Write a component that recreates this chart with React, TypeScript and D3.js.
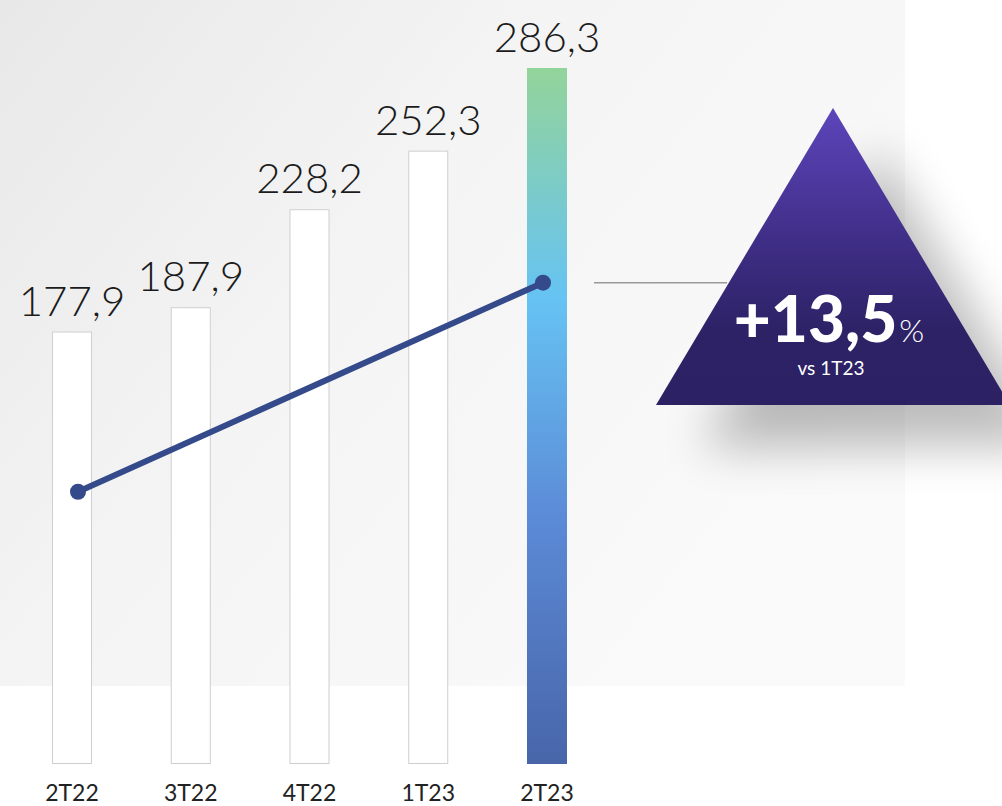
import * as d3 from "d3";

const categories = ["2T22", "3T22", "4T22", "1T23", "2T23"];
const barValues = [177.9, 187.9, 228.2, 252.3, 286.3];
const barLabels = ["177,9", "187,9", "228,2", "252,3", "286,3"];

// trend line: only first and last quarter
const lineCategories = ["2T22", "2T23"];
const lineValues = [112, 198];

const badgeValue = "+13,5";
const badgeUnit = "%";
const badgeSub = "vs 1T23";

const W = 1002;
const H = 806;

const App = () => {
  const x = d3.scaleBand().domain(categories).range([52, 567]).paddingInner(0.663).paddingOuter(0);
  const y = d3.scaleLinear().domain([0, 286.3]).range([764, 68]);

  // line sits a bit inside the bar centres
  const xl = d3.scalePoint().domain(categories).range([x("2T22")! + x.bandwidth() / 2 + 6, x("2T23")! + x.bandwidth() / 2 - 4]);

  const linePts = lineCategories.map((c, i) => ({ c, v: lineValues[i] }));
  const line = d3.line<{ c: string; v: number }>()
    .x(d => xl(d.c)!)
    .y(d => y(d.v));

  const last = categories[categories.length - 1];
  const lastPt = linePts[linePts.length - 1];

  // triangle badge
  const apex = { x: 833, y: 108 };
  const half = 177;
  const baseY = 405;
  const tri = `M${apex.x},${apex.y} L${apex.x + half},${baseY} L${apex.x - half},${baseY} Z`;

  return (
    <svg width={W} height={H} style={{ position: "absolute", left: 0, top: 0, display: "block" }}
      fontFamily="Lato, 'Noto Sans', sans-serif">
      <defs>
        <linearGradient id="bg" x1="0" y1="0" x2="1" y2="0.6">
          <stop offset="0" stopColor="#e8e8e8" />
          <stop offset="0.45" stopColor="#f4f4f4" />
          <stop offset="1" stopColor="#fafafa" />
        </linearGradient>
        <linearGradient id="hl" x1="0" y1="0" x2="0" y2="1">
          <stop offset="0" stopColor="#93d49a" />
          <stop offset="0.33" stopColor="#66c3f3" />
          <stop offset="0.65" stopColor="#5b8ad6" />
          <stop offset="1" stopColor="#4865a9" />
        </linearGradient>
        <linearGradient id="tri" x1="0" y1="0" x2="0" y2="1">
          <stop offset="0" stopColor="#5c45bb" />
          <stop offset="0.45" stopColor="#3f2e86" />
          <stop offset="0.75" stopColor="#2d2266" />
          <stop offset="1" stopColor="#2c2163" />
        </linearGradient>
        <filter id="blur" x="-50%" y="-50%" width="200%" height="200%">
          <feGaussianBlur stdDeviation="24" />
        </filter>
      </defs>

      <rect x={0} y={0} width={905} height={686} fill="url(#bg)" />

      {categories.map((c, i) => {
        const isLast = c === last;
        return (
          <g key={c}>
            <rect
              x={x(c)! + (isLast ? 0 : 0.5)}
              y={y(barValues[i]) + (isLast ? 0 : 0.5)}
              width={x.bandwidth() - (isLast ? 0 : 1)}
              height={y(0) - y(barValues[i]) - (isLast ? 0 : 1)}
              fill={isLast ? "url(#hl)" : "#ffffff"}
              stroke={isLast ? "none" : "#cfcfcf"}
              strokeWidth={1}
            />
            <text x={x(c)! + x.bandwidth() / 2} y={y(barValues[i]) - 16} textAnchor="middle"
              fontSize={42} fontWeight={300} fill="#1b1b1b">{barLabels[i]}</text>
            <text x={x(c)! + x.bandwidth() / 2} y={801} textAnchor="middle"
              fontSize={23} fontWeight={400} fill="#222222">{c}</text>
          </g>
        );
      })}

      <path d={line(linePts)!} fill="none" stroke="#344a8b" strokeWidth={6} strokeLinecap="round" />
      {linePts.map(d => (
        <circle key={d.c} cx={xl(d.c)!} cy={y(d.v)} r={8} fill="#344a8b" />
      ))}

      <line x1={x(last)! + x.bandwidth() + 27} x2={727} y1={y(lastPt.v)} y2={y(lastPt.v)}
        stroke="#9a9a9a" strokeWidth={1.5} />

      <path d={tri} transform="translate(45,42)" fill="#000" opacity={0.26} filter="url(#blur)" />
      <path d={tri} fill="url(#tri)" />
      <text y={342} textAnchor="middle" fill="#ffffff">
        <tspan x={829} fontSize={64} fontWeight={900}>{badgeValue}</tspan>
        <tspan fontSize={32} fontWeight={300} dx={2}>{badgeUnit}</tspan>
      </text>
      <text x={831} y={375} textAnchor="middle" fontSize={19} fontWeight={400} fill="#ffffff">{badgeSub}</text>
    </svg>
  );
};

export default App;
